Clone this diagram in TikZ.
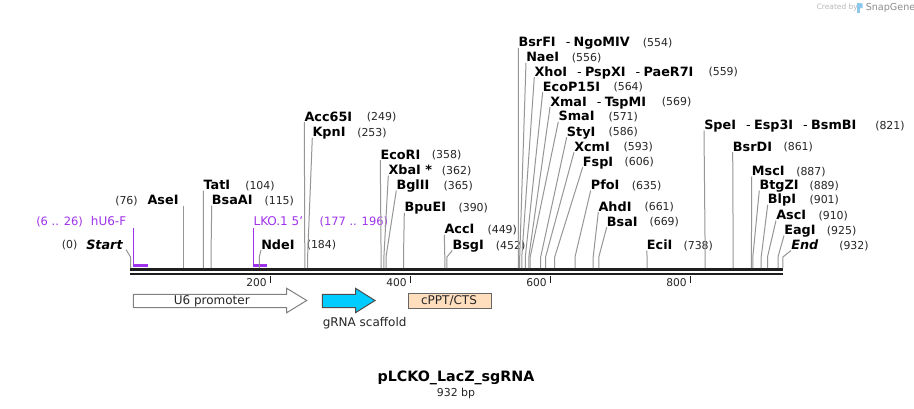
\documentclass[tikz,border=0pt]{standalone}
\usepackage{fontspec}
\setmainfont{DejaVu Sans}
\definecolor{conncol}{RGB}{150,150,150}
\definecolor{primercol}{RGB}{160,50,235}
\definecolor{scaffold}{RGB}{0,204,255}
\definecolor{peach}{RGB}{255,222,190}
\definecolor{axiscol}{RGB}{30,30,30}
\newcommand{\dsep}{\hspace{7.5pt}\textmd{-}\hspace{2.5pt}}
\newcommand{\enz}[7]{%
  \node[nm] (n#1) at (#3,#4) {#5};
  \node[num] (p#1) at (#6,#4) {#7};
  \coordinate (a#1) at (#3,#4+5.5);
  \coordinate (b#1) at ({130.5+0.7*#2},257);
  \coordinate (s#1) at ({130.5+0.7*#2},268);
  \draw[cn] (a#1) -- (b#1) -- (s#1);
}
\begin{document}
\begin{tikzpicture}[x=0.75pt,y=-0.75pt,
  nm/.style={font=\fontsize{9.6}{11}\selectfont\bfseries, inner sep=0pt, anchor=west, text height=7pt, text depth=0pt},
  num/.style={font=\fontsize{8.2}{10}\selectfont, inner sep=0pt, anchor=west, text height=6pt, text depth=0pt, text=black!85},
  pnm/.style={font=\fontsize{9}{11}\selectfont, inner sep=0pt, anchor=west, text height=6.6pt, text depth=0pt, text=primercol},
  pnum/.style={font=\fontsize{8.6}{10}\selectfont, inner sep=0pt, anchor=west, text height=6.3pt, text depth=0pt, text=primercol},
  cn/.style={draw=conncol, line width=0.75pt},
  tick/.style={draw=axiscol, line width=1pt},
  ticklab/.style={font=\fontsize{8}{10}\selectfont, inner sep=0pt, anchor=east, text height=5.8pt, text depth=0pt, text=black!85},
  feat/.style={font=\fontsize{9}{11}\selectfont, inner sep=0pt, text height=6.5pt, text depth=0pt, text=black!85},
  bracket/.style={draw=primercol, line width=1pt},
  bracketb/.style={draw=primercol, line width=1.6pt}
]
\useasboundingbox (0,0) rectangle (914,408);
\fill[white] (0,0) rectangle (914,408);

% watermark
\node[font=\fontsize{5.6}{7}\selectfont, text=black!28, inner sep=0pt, anchor=west] (wm1) at (816.5,7.5) {Created by};
\fill[color={rgb,255:red,140;green,200;blue,235}] (857,3) rectangle (859.5,12.5);
\fill[color={rgb,255:red,140;green,200;blue,235}] (859.5,3) -- (862.5,3.5) -- (862.5,8) -- (859.5,8.5) -- cycle;
\node[font=\fontsize{7.2}{8}\selectfont, text=black!45, inner sep=0pt, anchor=west] (wm2) at (865.5,7.5) {SnapGene};

% axis
\draw[axiscol, line width=2pt] (130,269.8) -- (783.3,269.8);
\draw[axiscol, line width=2pt] (130,273.9) -- (783.3,273.9);
\foreach \v/\t in {200/t2,400/t4,600/t6,800/t8}{
  \coordinate (\t) at ({130.5+0.7*\v},276);
  \draw[tick] (\t) -- ++(0,6.5);
  \node[ticklab] at ({130.5+0.7*\v-3.5},282.3) {\v};
}

% left labels
\node[num] (p0) at (61.7,244.5) {(0)};
\node[nm] (nStart) at (86,244.5) {\textit{Start}};
\coordinate (aStart) at (126,249.5);
\coordinate (bStart) at (130.5,257);
\coordinate (sStart) at (130.5,268);
\draw[cn] (aStart) -- (bStart) -- (sStart);

\node[num] (p76) at (115,200) {(76)};
\node[nm] (nAseI) at (147.3,200) {AseI};
\coordinate (aAseI) at (183.7,205.5);
\coordinate (sAseI) at (183.7,268);
\draw[cn] (aAseI) -- (sAseI);

% primers
\node[pnum] (ph1) at (36,221.5) {(6 .. 26)};
\node[pnm] (nh1) at (90.7,221.5) {hU6-F};
\coordinate (hU6a) at (133.3,228);
\coordinate (hU6b) at (133.3,265.5);
\coordinate (hU6c) at (148,265.5);
\draw[bracket] (hU6a) -- (hU6b);
\draw[bracketb] (hU6b) -- (hU6c);

\node[pnm] (nlko) at (253.3,221.5) {LKO.1 5\symbol{39}};
\node[pnum] (plko) at (319.3,221.5) {(177 .. 196)};
\coordinate (lkoa) at (253.3,228);
\coordinate (lkob) at (253.3,265.5);
\coordinate (lkoc) at (266.7,265.5);
\draw[bracket] (lkoa) -- (lkob);
\draw[bracketb] (lkob) -- (lkoc);

% right labels
\enz{TatI}{104}{203.3}{185}{TatI}{245}{(104)}
\enz{BsaAI}{115}{211.7}{200}{BsaAI}{264.3}{(115)}
\enz{NdeI}{184}{261}{244.5}{NdeI}{306.5}{(184)}
\enz{Acc}{249}{304.3}{116.7}{Acc65I}{366.7}{(249)}
\enz{KpnI}{253}{312.3}{132.3}{KpnI}{357}{(253)}
\enz{EcoRI}{358}{380.3}{154.5}{EcoRI}{431.7}{(358)}
\enz{XbaI}{362}{388.3}{170}{XbaI *}{441.7}{(362)}
\enz{BglII}{365}{396.3}{185}{BglII}{443.3}{(365)}
\enz{BpuEI}{390}{404.3}{207.3}{BpuEI}{458.3}{(390)}
\enz{AccI}{449}{444.3}{229.3}{AccI}{487.3}{(449)}
\enz{BsgI}{452}{452.3}{245}{BsgI}{495.7}{(452)}
\enz{BsrFI}{554}{518.3}{42.3}{BsrFI\dsep NgoMIV}{642.7}{(554)}
\enz{NaeI}{556}{526}{57.3}{NaeI}{571.7}{(556)}
\enz{XhoI}{559}{534.3}{71.7}{XhoI\dsep PspXI\dsep PaeR7I}{708.3}{(559)}
\enz{EcoP}{564}{542.7}{86.7}{EcoP15I}{613.3}{(564)}
\enz{XmaI}{569}{550}{101.7}{XmaI\dsep TspMI}{661.7}{(569)}
\enz{SmaI}{571}{558.3}{116.3}{SmaI}{608.3}{(571)}
\enz{StyI}{586}{566.7}{131.7}{StyI}{608.3}{(586)}
\enz{XcmI}{593}{574}{146.7}{XcmI}{623.3}{(593)}
\enz{FspI}{606}{582.7}{161.7}{FspI}{624.3}{(606)}
\enz{PfoI}{635}{590.7}{185}{PfoI}{631.7}{(635)}
\enz{AhdI}{661}{598.3}{206.7}{AhdI}{644.3}{(661)}
\enz{BsaI}{669}{606.7}{221.7}{BsaI}{649.3}{(669)}
\enz{EciI}{738}{646.7}{245}{EciI}{683.3}{(738)}
\enz{SpeI}{821}{704}{125}{SpeI\dsep Esp3I\dsep BsmBI}{875}{(821)}
\enz{BsrDI}{861}{732.7}{146.7}{BsrDI}{783.3}{(861)}
\enz{MscI}{887}{751.7}{171}{MscI}{796}{(887)}
\enz{BtgZI}{889}{759.3}{185}{BtgZI}{809.3}{(889)}
\enz{BlpI}{901}{767.7}{199.3}{BlpI}{809.3}{(901)}
\enz{AscI}{910}{776}{215}{AscI}{818.3}{(910)}
\enz{EagI}{925}{784}{230}{EagI}{826.7}{(925)}
\enz{End}{932}{791}{245}{\textit{End}}{839}{(932)}

% features
\draw[draw=black!50, fill=white, line width=0.75pt]
  (133.3,294.3) -- (286.7,294.3) -- (286.7,288.3) -- (306.7,300.5) -- (286.7,312.7) -- (286.7,307.7) -- (133.3,307.7) -- cycle;
\node[feat] (u6) at (211.8,300.5) {U6 promoter};

\draw[draw=black!70, fill=scaffold, line width=0.75pt]
  (322.3,294.3) -- (355.5,294.3) -- (355.5,288.3) -- (375,300.5) -- (355.5,312.7) -- (355.5,307.7) -- (322.3,307.7) -- cycle;
\node[feat, anchor=west] (grna) at (322.5,321.7) {gRNA scaffold};

\draw[draw=black!60, fill=peach, line width=0.75pt] (408.3,293.8) rectangle (491,308);
\node[feat] (cppt) at (449,300.5) {cPPT/CTS};

% title
\node[font=\fontsize{10.7}{12}\selectfont\bfseries, inner sep=0pt, text height=7.8pt, text depth=2pt] (title) at (456,378) {pLCKO\_LacZ\_sgRNA};
\node[font=\fontsize{8.2}{10}\selectfont, inner sep=0pt, text height=6pt, text depth=0pt, text=black!85] (len) at (456,392) {932 bp};
\end{tikzpicture}
\end{document}
